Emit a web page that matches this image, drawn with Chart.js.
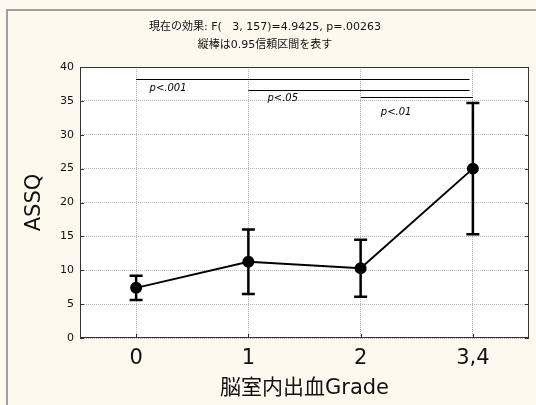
<!DOCTYPE html>
<html>
<head>
<meta charset="utf-8">
<script src="https://cdn.jsdelivr.net/npm/chart.js@4/dist/chart.umd.min.js"></script>
<style>
  body { margin: 0; background: #fdf9ee; }
</style>
</head>
<body>
<canvas id="chart" width="536" height="405"></canvas>
<script>
var labels = ["0", "1", "2", "3,4"];
var means = [7.4, 11.25, 10.3, 25.0];
var lower = [5.6, 6.5, 6.1, 15.3];
var upper = [9.2, 16.0, 14.5, 34.7];

// significance brackets: from/to category, height in ASSQ units
var sigFrom = [0, 1, 2];
var sigTo = [2.97, 2.97, 3];
var sigLevel = [38.2, 36.6, 35.5];
var sigText = ["p<.001", "p<.05", "p<.01"];
var sigTextX = [0.12, 1.17, 2.18];
var sigTextY = [36.8, 35.3, 33.3];

Chart.defaults.font.family = "'DejaVu Sans', 'Noto Sans CJK JP', sans-serif";
Chart.defaults.color = "#111111";

var framePlugin = {
  id: "frame",
  beforeDraw: function (chart) {
    var ctx = chart.ctx;
    var a = chart.chartArea;
    ctx.save();
    ctx.fillStyle = "#fdf9ee";
    ctx.fillRect(0, 0, chart.width, chart.height);
    ctx.strokeStyle = "#a0a0a0";
    ctx.lineWidth = 2;
    ctx.beginPath();
    ctx.moveTo(7, chart.height);
    ctx.lineTo(7, 10);
    ctx.lineTo(chart.width, 10);
    ctx.stroke();
    ctx.fillStyle = "#ffffff";
    ctx.fillRect(a.left, a.top, a.right - a.left, a.bottom - a.top);
    ctx.restore();
  },
  beforeDatasetsDraw: function (chart) {
    var ctx = chart.ctx;
    var x = chart.scales.x, y = chart.scales.y;
    ctx.save();
    ctx.strokeStyle = "#000000";
    ctx.lineWidth = 2.5;
    for (var i = 0; i < means.length; i++) {
      var px = x.getPixelForValue(i);
      var top = y.getPixelForValue(upper[i]);
      var bot = y.getPixelForValue(lower[i]);
      ctx.beginPath();
      ctx.moveTo(px, top);
      ctx.lineTo(px, bot);
      ctx.moveTo(px - 6.5, top);
      ctx.lineTo(px + 6.5, top);
      ctx.moveTo(px - 6.5, bot);
      ctx.lineTo(px + 6.5, bot);
      ctx.stroke();
    }
    ctx.restore();
  },
  afterDraw: function (chart) {
    var ctx = chart.ctx;
    var a = chart.chartArea;
    var x = chart.scales.x, y = chart.scales.y;
    ctx.save();
    ctx.strokeStyle = "#333333";
    ctx.lineWidth = 1;
    ctx.strokeRect(a.left + 0.5, a.top + 0.5, a.right - a.left - 1, a.bottom - a.top - 1);

    // small inward tick marks
    ctx.beginPath();
    y.ticks.forEach(function (t) {
      var ty = Math.round(y.getPixelForValue(t.value)) + 0.5;
      ctx.moveTo(a.left, ty);
      ctx.lineTo(a.left + 4, ty);
      ctx.moveTo(a.right, ty);
      ctx.lineTo(a.right - 4, ty);
    });
    x.ticks.forEach(function (t, k) {
      var tx = Math.round(x.getPixelForValue(k)) + 0.5;
      ctx.moveTo(tx, a.bottom);
      ctx.lineTo(tx, a.bottom - 4);
    });
    ctx.stroke();

    ctx.strokeStyle = "#000000";
    for (var i = 0; i < sigFrom.length; i++) {
      var yy = Math.round(y.getPixelForValue(sigLevel[i])) + 0.5;
      ctx.beginPath();
      ctx.moveTo(x.getPixelForValue(sigFrom[i]), yy);
      ctx.lineTo(x.getPixelForValue(sigTo[i]), yy);
      ctx.stroke();
    }
    ctx.fillStyle = "#000000";
    ctx.font = "italic 10px 'DejaVu Sans'";
    ctx.textBaseline = "middle";
    ctx.textAlign = "left";
    for (var j = 0; j < sigText.length; j++) {
      ctx.fillText(sigText[j], x.getPixelForValue(sigTextX[j]), y.getPixelForValue(sigTextY[j]));
    }
    ctx.restore();
  },
};

var config = {
  type: "line",
  data: {
    labels: labels,
    datasets: [
      {
        label: "ASSQ",
        data: means,
        borderColor: "#000000",
        backgroundColor: "#000000",
        borderWidth: 2,
        pointRadius: 5,
        pointBackgroundColor: "#000000",
        tension: 0,
        fill: false,
      },
    ],
  },
  options: {
    responsive: false,
    animation: false,
    layout: { padding: { left: 0, right: 6, top: 0, bottom: 0 } },
    plugins: {
      legend: { display: false },
      tooltip: { enabled: false },
      title: {
        display: true,
        text: ["現在の効果: F(   3, 157)=4.9425, p=.00263", "縦棒は0.95信頼区間を表す"],
        font: { size: 11, weight: "normal", lineHeight: 18 / 11 },
        color: "#111111",
        padding: { top: 18, bottom: 13 },
      },
    },
    scales: {
      x: {
        offset: true,
        grid: { offset: false, color: "#b8b8b8", drawTicks: false },
        border: { display: false, dash: [1, 1] },
        ticks: { font: { size: 21 }, padding: 8, color: "#111111" },
        title: {
          display: true,
          text: "脳室内出血Grade",
          font: { size: 21 },
          padding: { top: 0, bottom: 4 },
          color: "#111111",
        },
        afterFit: function (scale) {
          scale.height = 67;
        },
      },
      y: {
        min: 0,
        max: 40,
        grid: { color: "#b8b8b8", drawTicks: false },
        border: { display: false, dash: [1, 1] },
        ticks: { stepSize: 5, font: { size: 11 }, padding: 6, color: "#111111" },
        title: {
          display: true,
          text: "ASSQ",
          font: { size: 21 },
          padding: { top: 22, bottom: 0 },
          color: "#111111",
        },
        afterFit: function (scale) {
          scale.width = 80;
        },
      },
    },
  },
  plugins: [framePlugin],
};

var ctxOne = document.getElementById("chart").getContext("2d");
new Chart(ctxOne, config);
</script>
</body>
</html>
